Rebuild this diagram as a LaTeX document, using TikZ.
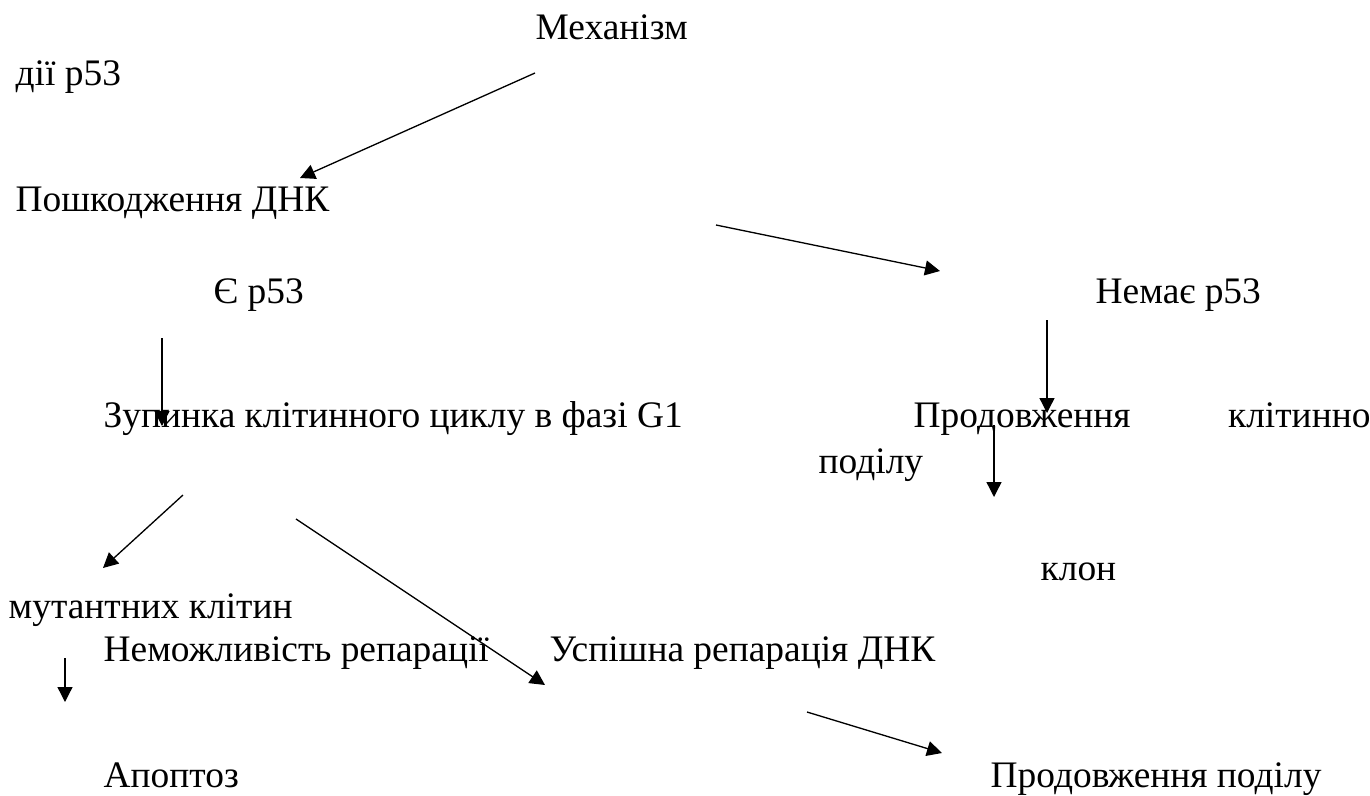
\documentclass[tikz,border=0pt]{standalone}
\usepackage{fontspec}
\setmainfont{Liberation Serif}
\usetikzlibrary{arrows.meta}

\begin{document}
\begin{tikzpicture}[x=0.02cm, y=-0.02cm, line width=0.75pt, >={Triangle[length=0.3cm, width=0.3cm]},
    word/.style = {inner sep=0pt, anchor=base west, font=\rmfamily\fontsize{21.3}{25}\selectfont}]
    \useasboundingbox (0,0) rectangle (1370,795);
    % labels
    \node[word] (mech) at (535,39) {Механізм};
    \node[word] (dii) at (15,85) {дії р53};
    \node[word] (damage) at (15,211) {Пошкодження ДНК};
    \node[word] (yes) at (213,303) {Є р53};
    \node[word] (no) at (1095,303) {Немає р53};
    \node[word] (stop) at (103,427) {Зупинка клітинного циклу в фазі G1};
    \node[word] (cont) at (913,427) {\makebox[9.14cm][s]{Продовження клітинно}};
    \node[word] (podilu) at (818,473) {поділу};
    \node[word] (clone) at (1040,580) {клон};
    \node[word] (mutant) at (8,618) {мутантних клітин};
    \node[word] (norep) at (103,661) {Неможливість репарації};
    \node[word] (rep) at (549,661) {Успішна репарація ДНК};
    \node[word] (apop) at (103,787) {Апоптоз};
    \node[word] (contdiv) at (990,787) {Продовження поділу};
    % arrow ends
    \coordinate (a1) at (535,73);   \coordinate (b1) at (300,178);
    \coordinate (a2) at (716,225);  \coordinate (b2) at (940,271);
    \coordinate (a3) at (162,338);  \coordinate (b3) at (162,426);
    \coordinate (a4) at (1047,320); \coordinate (b4) at (1047,413);
    \coordinate (a5) at (994,425);  \coordinate (b5) at (994,497);
    \coordinate (a6) at (183,495);  \coordinate (b6) at (103,568);
    \coordinate (a7) at (296,519);  \coordinate (b7) at (545,685);
    \coordinate (a8) at (65,658);   \coordinate (b8) at (65,702);
    \coordinate (a9) at (807,712);  \coordinate (b9) at (942,753);
    % arrows
    \foreach \i in {1,...,9}
        \draw[->] (a\i) -- (b\i);
\end{tikzpicture}
\end{document}
